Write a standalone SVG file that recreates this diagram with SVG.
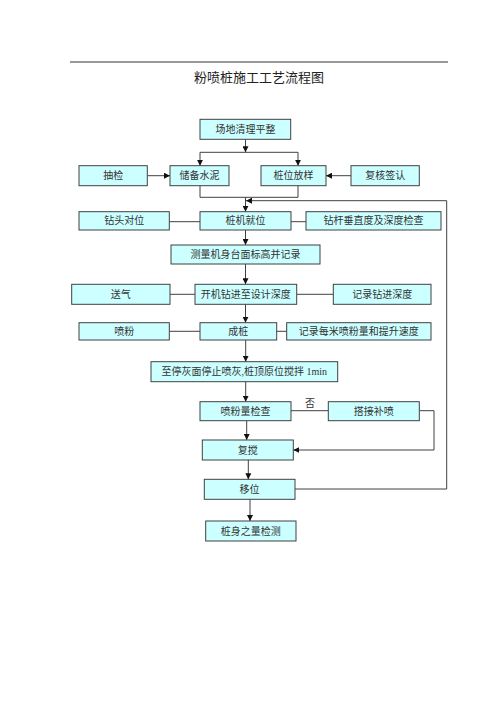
<svg xmlns="http://www.w3.org/2000/svg" width="500" height="707" viewBox="0 0 500 707">
<style>
.box{fill:#ccffff;stroke:#404040;stroke-width:1}
.t{font-family:"Liberation Serif","Noto Sans CJK SC",serif;font-size:10px;fill:#333;text-anchor:middle;dominant-baseline:central}
.ln{fill:none;stroke:#404040;stroke-width:1}
.ar{fill:none;stroke:#404040;stroke-width:1;marker-end:url(#ah)}
.title{font-family:"Noto Sans CJK SC","Liberation Sans",sans-serif;font-size:13px;fill:#222;text-anchor:middle;dominant-baseline:central}
</style>
<defs>
<marker id="ah" viewBox="0 0 10 10" refX="10" refY="5" markerWidth="6" markerHeight="6" markerUnits="userSpaceOnUse" orient="auto">
<path d="M0,0 L10,5 L0,10 Z" fill="#111"/>
</marker>
</defs>
<rect width="500" height="707" fill="#fff"/>
<line x1="70" y1="62" x2="448" y2="62" stroke="#333" stroke-width="1"/>
<text class="title" x="259" y="76">粉喷桩施工工艺流程图</text>

<g id="connectors">
<path class="ar" d="M245.5,139.3 V152.3"/>
<path class="ln" d="M200,152.3 H298"/>
<path class="ar" d="M200,152.3 V165.7"/>
<path class="ar" d="M298,152.3 V165.7"/>
<path class="ar" d="M147.3,175.7 H170"/>
<path class="ar" d="M351,175.7 H326"/>
<path class="ln" d="M200,185.7 V197.3 H298 V185.7"/>
<path class="ar" d="M245.5,197.3 V211.7"/>
<path class="ar" d="M446.7,489 V200.7 H246"/>
<path class="ln" d="M295,489 H446.7"/>
<path class="ln" d="M169.3,221.7 H200"/>
<path class="ln" d="M291,221.7 H306"/>
<path class="ar" d="M245.5,230 V245"/>
<path class="ar" d="M245.5,264 V284.3"/>
<path class="ln" d="M170,294.3 H195"/>
<path class="ln" d="M296.7,294.3 H333.3"/>
<path class="ar" d="M245.5,304.3 V322.7"/>
<path class="ln" d="M169.3,331.3 H200"/>
<path class="ln" d="M276.7,331.3 H286.7"/>
<path class="ar" d="M245.7,340 V361.7"/>
<path class="ar" d="M245.7,381.7 V401.7"/>
<path class="ln" d="M291,410.7 H328.3"/>
<path class="ar" d="M419.3,410.7 H434 V450 H293.3"/>
<path class="ar" d="M246.7,420.7 V440"/>
<path class="ar" d="M248.3,460 V479.3"/>
<path class="ar" d="M250,499.3 V521"/>
</g>
<text class="t" x="310" y="403.5">否</text>

<g id="n1"><rect class="box" x="200" y="119.3" width="90.7" height="20"/><text class="t" x="245.4" y="129.3">场地清理平整</text></g>
<g id="n2"><rect class="box" x="79" y="165.7" width="68.3" height="20"/><text class="t" x="113.2" y="175.7">抽检</text></g>
<g id="n3"><rect class="box" x="170" y="165.7" width="59" height="20"/><text class="t" x="199.5" y="175.7">储备水泥</text></g>
<g id="n4"><rect class="box" x="261" y="165.7" width="65" height="20"/><text class="t" x="293.5" y="175.7">桩位放样</text></g>
<g id="n5"><rect class="box" x="351" y="165.7" width="68.3" height="20"/><text class="t" x="385.2" y="175.7">复核签认</text></g>
<g id="n6"><rect class="box" x="79" y="211.7" width="90.3" height="18.3"/><text class="t" x="124.2" y="220.9">钻头对位</text></g>
<g id="n7"><rect class="box" x="200" y="211.7" width="91" height="18.3"/><text class="t" x="245.5" y="220.9">桩机就位</text></g>
<g id="n8"><rect class="box" x="306" y="211.7" width="135" height="18.3"/><text class="t" x="373.5" y="220.9">钻杆垂直度及深度检查</text></g>
<g id="n9"><rect class="box" x="171" y="245" width="149" height="19"/><text class="t" x="245.5" y="254.5">测量机身台面标高并记录</text></g>
<g id="n10"><rect class="box" x="71.7" y="284.3" width="98.3" height="20"/><text class="t" x="120.8" y="294.3">送气</text></g>
<g id="n11"><rect class="box" x="195" y="284.3" width="101.7" height="20"/><text class="t" x="245.8" y="294.3">开机钻进至设计深度</text></g>
<g id="n12"><rect class="box" x="333.3" y="284.3" width="97.7" height="20"/><text class="t" x="382.2" y="294.3">记录钻进深度</text></g>
<g id="n13"><rect class="box" x="79" y="322.7" width="90.3" height="17.3"/><text class="t" x="124.2" y="331.3">喷粉</text></g>
<g id="n14"><rect class="box" x="200" y="322.7" width="76.7" height="17.3"/><text class="t" x="238.3" y="331.3">成桩</text></g>
<g id="n15"><rect class="box" x="286.7" y="322.7" width="144.3" height="17.3"/><text class="t" x="358.8" y="331.3">记录每米喷粉量和提升速度</text></g>
<g id="n16"><rect class="box" x="151" y="361.7" width="186.7" height="20"/><text class="t" x="244.3" y="371.7">至停灰面停止喷灰,桩顶原位搅拌 1min</text></g>
<g id="n17"><rect class="box" x="200" y="401.7" width="91" height="19"/><text class="t" x="245.5" y="411.2">喷粉量检查</text></g>
<g id="n18"><rect class="box" x="328.3" y="401.7" width="91" height="19"/><text class="t" x="373.8" y="411.2">搭接补喷</text></g>
<g id="n19"><rect class="box" x="202.3" y="440" width="91" height="20"/><text class="t" x="247.8" y="450">复搅</text></g>
<g id="n20"><rect class="box" x="204.3" y="479.3" width="90.7" height="20"/><text class="t" x="249.6" y="489.3">移位</text></g>
<g id="n21"><rect class="box" x="205.7" y="521" width="90.3" height="20"/><text class="t" x="250.8" y="531">桩身之量检测</text></g>
</svg>
